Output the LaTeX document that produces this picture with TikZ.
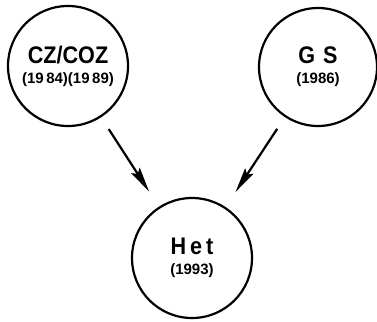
\documentclass[tikz,border=0pt]{standalone}
\usepackage{fontspec}
\setmainfont{Liberation Sans}
\newfontfamily\narrowfont[FakeStretch=0.9]{Liberation Sans}
\usetikzlibrary{arrows.meta}
\newcommand{\mainsz}{\narrowfont\fontsize{24}{24}\selectfont\bfseries}
\newcommand{\yrsz}{\fontsize{15}{15}\selectfont\bfseries}
\begin{document}
\begin{tikzpicture}[x=1pt,y=-1pt,
  bubble/.style={draw,circle,line width=2.2pt,minimum size=120pt,inner sep=0pt,align=center},
  conn/.style={line width=2.2pt,-{Stealth[length=25pt,width=10pt,inset=4pt]},shorten <=14pt,shorten >=18pt}]
\useasboundingbox (0,0) rectangle (377,321);
\node[bubble] (cz) at (68,66) {\mainsz CZ/COZ\\[8pt]\yrsz(19\,84)(19\,89)};
\node[bubble,minimum size=118pt] (gs) at (318,67) {\mainsz G\,\,S\\[8pt]\yrsz(1986)};
\node[bubble] (het) at (192,258) {\mainsz H\,e\,t\\[8pt]\yrsz(1993)};
\draw[conn] (cz) -- (het);
\draw[conn] (gs) -- (het);
\end{tikzpicture}
\end{document}
